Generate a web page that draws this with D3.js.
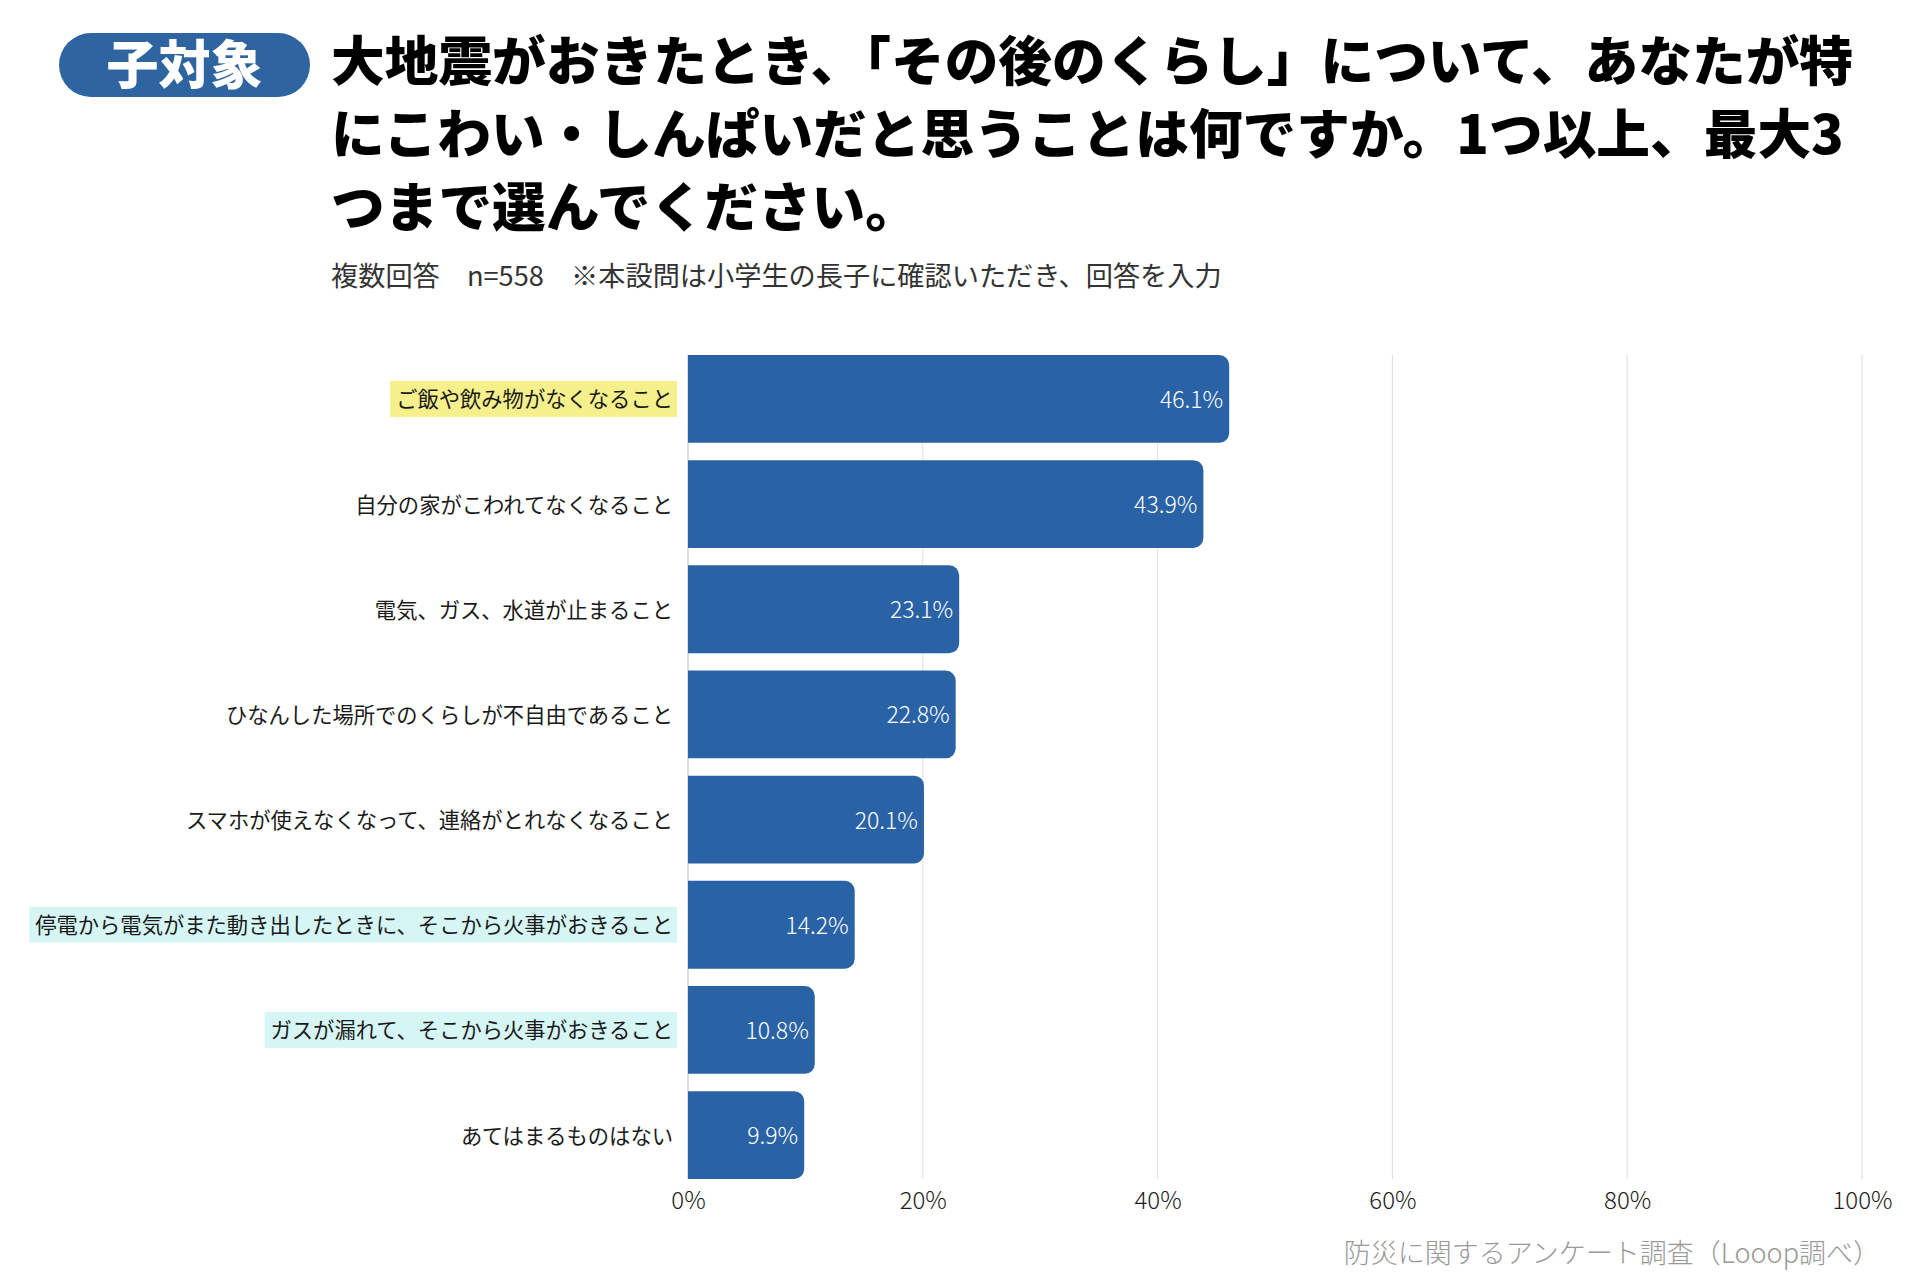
<!DOCTYPE html>
<html>
<head>
<meta charset="utf-8">
<script src="https://cdn.jsdelivr.net/npm/d3@7"></script>
<style>
  body { margin: 0; background: #fff; }
  text { font-family: "Noto Sans CJK JP", "Noto Sans", sans-serif; }
</style>
</head>
<body>
<div id="chart"></div>
<script>
// data
var categories = [
    "ご飯や飲み物がなくなること",
    "自分の家がこわれてなくなること",
    "電気、ガス、水道が止まること",
    "ひなんした場所でのくらしが不自由であること",
    "スマホが使えなくなって、連絡がとれなくなること",
    "停電から電気がまた動き出したときに、そこから火事がおきること",
    "ガスが漏れて、そこから火事がおきること",
    "あてはまるものはない"
];
var values = [46.1, 43.9, 23.1, 22.8, 20.1, 14.2, 10.8, 9.9];
var highlights = ["yellow", null, null, null, null, "cyan", "cyan", null];
var tickValues = [0, 20, 40, 60, 80, 100];

var titleLines = [
    "大地震がおきたとき、「その後のくらし」について、あなたが特",
    "にこわい・しんぱいだと思うことは何ですか。1つ以上、最大3",
    "つまで選んでください。"
];
var badgeText = "子対象";
var subtitle = "複数回答　n=558　※本設問は小学生の長子に確認いただき、回答を入力";
var source = "防災に関するアンケート調査（Looop調べ）";

var W = 1920, H = 1280;
var blue = "#2a63a5";
var hlColor = {yellow: "#f5f08c", cyan: "#d6f6f6"};

var svg = d3.select("#chart").append("svg")
    .attr("width", W)
    .attr("height", H);

svg.append("rect").attr("width", W).attr("height", H).attr("fill", "#fff");

// ---- header ----
svg.append("rect")
    .attr("x", 59).attr("y", 33)
    .attr("width", 251).attr("height", 64)
    .attr("rx", 32)
    .attr("fill", "#2e64a0");

svg.append("text")
    .attr("x", 184.5).attr("y", 61)
    .attr("text-anchor", "middle")
    .attr("dominant-baseline", "central")
    .attr("fill", "#fff")
    .style("font-size", "52px")
    .style("font-weight", 900)
    .text(badgeText);

svg.selectAll("text.title")
    .data(titleLines)
    .enter().append("text")
    .attr("class", "title")
    .attr("x", 331)
    .attr("y", function(d, i) { return 57 + i * 73; })
    .attr("dominant-baseline", "central")
    .attr("fill", "#000")
    .style("font-size", "53.7px")
    .style("font-weight", 900)
    .text(function(d) { return d; });

svg.append("text")
    .attr("x", 331).attr("y", 274)
    .attr("dominant-baseline", "central")
    .attr("fill", "#333")
    .style("font-size", "27.2px")
    .style("font-weight", 400)
    .text(subtitle);

// ---- scales ----
var x = d3.scaleLinear().domain([0, 100]).range([688, 1862]);
var y = d3.scaleBand()
    .domain(categories)
    .range([355, 1179])
    .paddingInner(0.165)
    .paddingOuter(0);

// grid
svg.append("g").selectAll("line.grid")
    .data(tickValues)
    .enter().append("line")
    .attr("class", "grid")
    .attr("x1", function(d) { return x(d); })
    .attr("x2", function(d) { return x(d); })
    .attr("y1", y.range()[0])
    .attr("y2", y.range()[1])
    .attr("stroke", function(d) { return d === 0 ? "#bbb" : "#dedede"; })
    .attr("stroke-width", 1);

// x axis labels
var xAxis = d3.axisBottom(x)
    .tickValues(tickValues)
    .tickSize(0)
    .tickPadding(0)
    .tickFormat(function(d) { return d + "%"; });

var axisG = svg.append("g")
    .attr("transform", "translate(0,1198)")
    .call(xAxis);
axisG.select(".domain").remove();
axisG.selectAll("text")
    .attr("y", 0)
    .attr("dy", null)
    .attr("dominant-baseline", "central")
    .attr("fill", "#1a1a1a")
    .style("font-size", "24px")
    .style("font-family", "\"Noto Sans CJK JP\", sans-serif")
    .style("font-weight", 300);

// bars with rounded right side
function barPath(x0, x1, y0, h, r) {
    r = Math.min(r, (x1 - x0), h / 2);
    return "M" + x0 + "," + y0 +
        "H" + (x1 - r) +
        "A" + r + "," + r + " 0 0 1 " + x1 + "," + (y0 + r) +
        "V" + (y0 + h - r) +
        "A" + r + "," + r + " 0 0 1 " + (x1 - r) + "," + (y0 + h) +
        "H" + x0 + "Z";
}

var rows = categories.map(function(c, i) {
    return {name: c, value: values[i], hl: highlights[i]};
});

svg.selectAll("path.bar")
    .data(rows)
    .enter().append("path")
    .attr("class", "bar")
    .attr("fill", blue)
    .attr("d", function(d) {
        return barPath(x(0), x(d.value), y(d.name), y.bandwidth(), 10);
    });

// value labels
svg.selectAll("text.value")
    .data(rows)
    .enter().append("text")
    .attr("class", "value")
    .attr("x", function(d) { return x(d.value) - 6; })
    .attr("y", function(d) { return y(d.name) + y.bandwidth() / 2 - 1; })
    .attr("text-anchor", "end")
    .attr("dominant-baseline", "central")
    .attr("fill", "#fff")
    .style("font-size", "23px")
    .style("font-weight", 300)
    .text(function(d) { return d.value.toFixed(1) + "%"; });

// category labels with highlight boxes
var labels = svg.append("g").selectAll("g.label")
    .data(rows)
    .enter().append("g")
    .attr("class", "label");

labels.append("text")
    .attr("x", 673)
    .attr("y", function(d) { return y(d.name) + y.bandwidth() / 2 - 1; })
    .attr("text-anchor", "end")
    .attr("dominant-baseline", "central")
    .attr("fill", "#1a1a1a")
    .style("font-size", "21.3px")
    .style("font-weight", 400)
    .text(function(d) { return d.name; });

labels.each(function(d) {
    if (!d.hl) return;
    var grp = d3.select(this);
    var bb = grp.select("text").node().getBBox();
    var cy = y(d.name) + y.bandwidth() / 2;
    grp.insert("rect", "text")
        .attr("x", bb.x - 6)
        .attr("y", cy - 18)
        .attr("width", 677 - (bb.x - 6))
        .attr("height", 36)
        .attr("fill", hlColor[d.hl]);
});

// source note
svg.append("text")
    .attr("x", 1880).attr("y", 1251)
    .attr("text-anchor", "end")
    .attr("dominant-baseline", "central")
    .attr("fill", "#999")
    .style("font-size", "27px")
    .style("font-weight", 300)
    .text(source);
</script>
</body>
</html>
